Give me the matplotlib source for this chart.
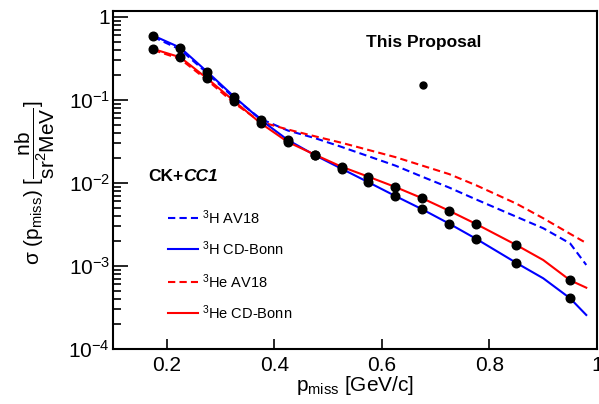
import matplotlib
matplotlib.use("Agg")
import matplotlib.pyplot as plt
from matplotlib.ticker import FixedLocator, LogLocator, NullFormatter, FuncFormatter, NullLocator

plt.rcParams["font.family"] = ["Liberation Sans", "DejaVu Sans"]
plt.rcParams["mathtext.fontset"] = "custom"
plt.rcParams["mathtext.rm"] = "Liberation Sans"
plt.rcParams["mathtext.it"] = "Liberation Sans:italic"
plt.rcParams["mathtext.bf"] = "Liberation Sans:bold"

# Projected measurement points (bin centres in p_miss, GeV/c)
p_points = [0.175, 0.225, 0.275, 0.325, 0.375, 0.425, 0.475, 0.525, 0.575,
            0.625, 0.675, 0.725, 0.775, 0.85, 0.95]
h3_points = [0.596, 0.427, 0.219, 0.110, 0.0574, 0.0330, 0.0217, 0.01486, 0.0102,
             0.00697, 0.00482, 0.00324, 0.00213, 0.00109, 0.000408]
he3_points = [0.411, 0.327, 0.182, 0.0973, 0.0523, 0.0312, 0.0220, 0.0157, 0.0119,
              0.00895, 0.00655, 0.00463, 0.00321, 0.00179, 0.000673]

# Theory curves
p_curve = [0.175, 0.225, 0.275, 0.325, 0.375, 0.425, 0.475, 0.525, 0.575,
           0.625, 0.675, 0.725, 0.775, 0.85, 0.9, 0.95, 0.98]
h3_av18 = [0.574, 0.405, 0.211, 0.106, 0.0590, 0.0429, 0.0348, 0.0272, 0.0210,
           0.0162, 0.0119, 0.00881, 0.00634, 0.00392, 0.00285, 0.00187, 0.00103]
h3_cdbonn = [0.596, 0.427, 0.219, 0.110, 0.0574, 0.0330, 0.0217, 0.01486, 0.0102,
             0.00697, 0.00482, 0.00324, 0.00213, 0.00109, 0.000711, 0.000408, 0.000257]
he3_av18 = [0.400, 0.312, 0.174, 0.0920, 0.0543, 0.0441, 0.0366, 0.0305, 0.0250,
            0.0205, 0.0162, 0.0128, 0.00940, 0.00564, 0.00376, 0.00244, 0.00189]
he3_cdbonn = [0.411, 0.327, 0.182, 0.0973, 0.0523, 0.0312, 0.0220, 0.0157, 0.0119,
              0.00895, 0.00655, 0.00463, 0.00321, 0.00179, 0.00118, 0.000673, 0.000548]

x_ticks = [0.2, 0.4, 0.6, 0.8, 1.0]
x_tick_labels = ["0.2", "0.4", "0.6", "0.8", "1"]
y_ticks = [1e-4, 1e-3, 1e-2, 1e-1, 1]
y_tick_labels = [r"$10^{-4}$", r"$10^{-3}$", r"$10^{-2}$", r"$10^{-1}$", "1"]

legend_entries = [
    (r"$^{3}$H AV18", "#0000ff", (0, (3.5, 2))),
    (r"$^{3}$H CD-Bonn", "#0000ff", "-"),
    (r"$^{3}$He AV18", "#ff0000", (0, (3.5, 2))),
    (r"$^{3}$He CD-Bonn", "#ff0000", "-"),
]

fig = plt.figure(figsize=(5.99, 4.04), dpi=100)
ax = fig.add_axes([0.1886, 0.1361, 0.9967 - 0.1886, 0.9728 - 0.1361])

lw = 1.5
dash = (0, (3.5, 2))
ax.plot(p_curve, h3_av18, color="#0000ff", lw=lw, linestyle=dash)
ax.plot(p_curve, he3_av18, color="#ff0000", lw=lw, linestyle=dash)
ax.plot(p_curve, h3_cdbonn, color="#0000ff", lw=lw)
ax.plot(p_curve, he3_cdbonn, color="#ff0000", lw=lw)
ax.plot(p_points, h3_points, "o", color="black", ms=6.2, zorder=5)
ax.plot(p_points, he3_points, "o", color="black", ms=6.2, zorder=5)

ax.set_yscale("log")
ax.set_xlim(0.1, 1.0)
ax.set_ylim(1e-4, 1.18)

ax.xaxis.set_major_locator(FixedLocator(x_ticks))
ax.set_xticklabels(x_tick_labels)
ax.xaxis.set_minor_locator(NullLocator())
ax.yaxis.set_major_locator(FixedLocator(y_ticks))
ax.set_yticklabels(y_tick_labels)
ax.yaxis.set_minor_locator(LogLocator(base=10, subs=range(2, 10)))
ax.yaxis.set_minor_formatter(NullFormatter())

ax.tick_params(axis="both", which="both", direction="in", labelsize=15,
               top=False, right=False, width=1.2, color="black")
ax.tick_params(axis="x", which="major", length=7, pad=5)
ax.tick_params(axis="y", which="major", length=11, pad=2)
ax.tick_params(axis="y", which="minor", length=5.5)
for s in ax.spines.values():
    s.set_linewidth(1.5)

# axis titles
ax.text(0.5, -0.1243, r"p$_{\rm miss}$ [GeV/c]", transform=ax.transAxes,
        ha="center", va="baseline", fontsize=15)
ax.text(-0.161, 0.491, r"σ (p$_{\rm miss}$) [$\dfrac{\rm nb}{\rm sr^{2}MeV}$]",
        transform=ax.transAxes, rotation=90, ha="center", va="center", fontsize=15)

# model label
t1 = ax.text(0.0723, 0.5118, "CK+", transform=ax.transAxes, ha="left",
             va="center", fontsize=12.5, fontweight="bold")
ax.annotate("CC1", xy=(1, 0), xycoords=t1, ha="left", va="bottom",
            fontsize=12.5, fontweight="bold", fontstyle="italic")

# key for the theory curves
rows_y = [0.3876, 0.2959, 0.1982, 0.1065]
for (label, color, ls), yy in zip(legend_entries, rows_y):
    ax.plot([0.1136, 0.1756], [yy, yy], transform=ax.transAxes, color=color,
            lw=lw, linestyle=ls, clip_on=False)
    ax.text(0.184, yy, label, transform=ax.transAxes, ha="left", va="center",
            fontsize=10.5)

# key for the projected points
ax.text(0.6426, 0.9053, "This Proposal", transform=ax.transAxes, ha="center",
        va="center", fontsize=12.5, fontweight="bold")
ax.plot([0.6405], [0.781], "o", color="black", ms=5, transform=ax.transAxes)

fig.savefig("out.png", dpi=100)
